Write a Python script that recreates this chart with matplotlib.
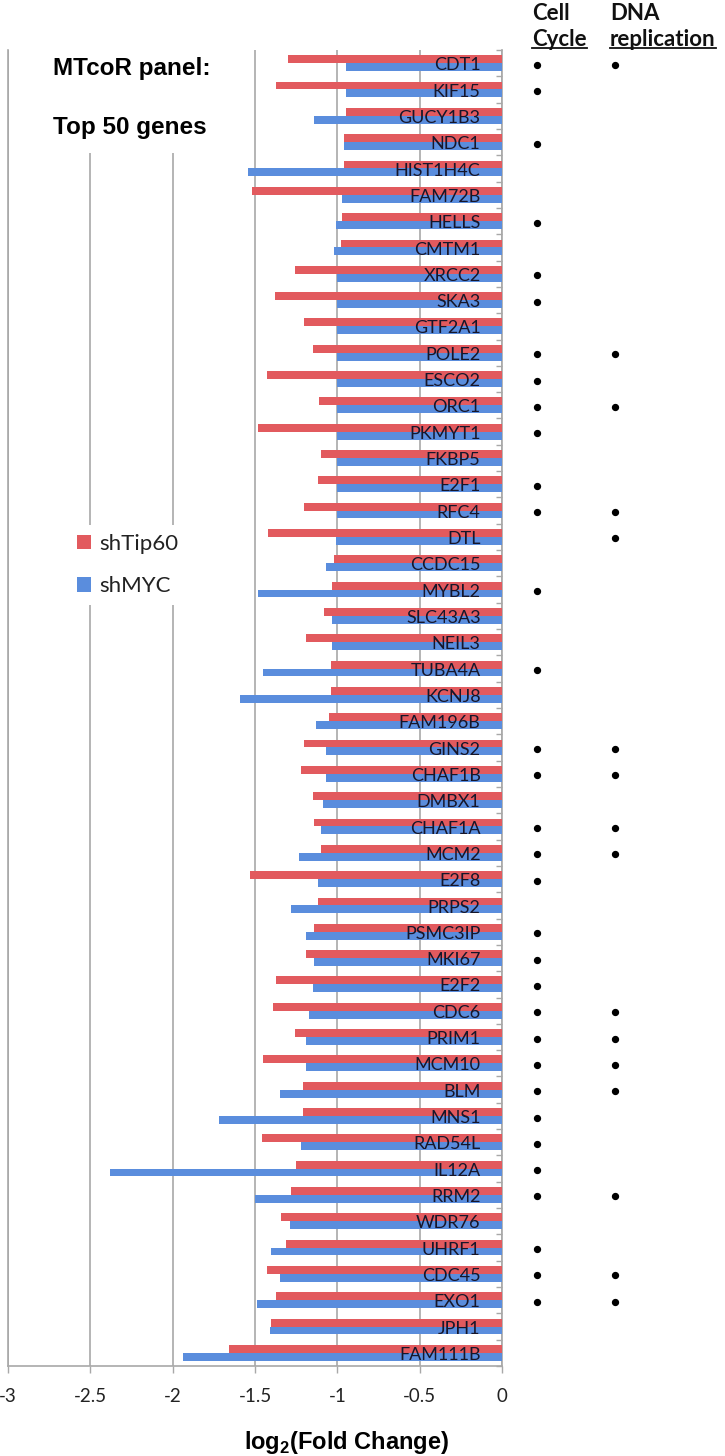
import numpy as np
import matplotlib
matplotlib.use("Agg")
import matplotlib.pyplot as plt
from matplotlib.lines import Line2D
from matplotlib.patches import Patch

plt.rcParams['mathtext.fontset'] = 'custom'
plt.rcParams['mathtext.rm'] = 'Liberation Sans'
plt.rcParams['mathtext.bf'] = 'Liberation Sans:bold'

# ---------------- data ----------------
genes = ["CDT1", "KIF15", "GUCY1B3", "NDC1", "HIST1H4C", "FAM72B", "HELLS", "CMTM1",
         "XRCC2", "SKA3", "GTF2A1", "POLE2", "ESCO2", "ORC1", "PKMYT1", "FKBP5", "E2F1",
         "RFC4", "DTL", "CCDC15", "MYBL2", "SLC43A3", "NEIL3", "TUBA4A", "KCNJ8", "FAM196B",
         "GINS2", "CHAF1B", "DMBX1", "CHAF1A", "MCM2", "E2F8", "PRPS2", "PSMC3IP", "MKI67",
         "E2F2", "CDC6", "PRIM1", "MCM10", "BLM", "MNS1", "RAD54L", "IL12A", "RRM2", "WDR76",
         "UHRF1", "CDC45", "EXO1", "JPH1", "FAM111B"]

shTip60 = [-1.30, -1.37, -0.95, -0.96, -0.96, -1.52, -0.97, -0.98, -1.26, -1.38,
           -1.20, -1.15, -1.43, -1.11, -1.48, -1.10, -1.12, -1.20, -1.42, -1.02,
           -1.03, -1.08, -1.19, -1.04, -1.04, -1.05, -1.20, -1.22, -1.15, -1.14,
           -1.10, -1.53, -1.12, -1.14, -1.19, -1.37, -1.39, -1.26, -1.45, -1.21,
           -1.21, -1.46, -1.25, -1.28, -1.34, -1.31, -1.43, -1.37, -1.40, -1.66]

shMYC = [-0.95, -0.95, -1.14, -0.96, -1.54, -0.97, -1.01, -1.02, -1.00, -1.00,
         -1.00, -1.00, -1.00, -1.00, -1.00, -1.00, -1.00, -1.00, -1.01, -1.07,
         -1.48, -1.03, -1.03, -1.45, -1.59, -1.13, -1.07, -1.07, -1.09, -1.10,
         -1.23, -1.12, -1.28, -1.19, -1.14, -1.15, -1.17, -1.19, -1.19, -1.35,
         -1.72, -1.22, -2.38, -1.50, -1.29, -1.40, -1.35, -1.49, -1.41, -1.94]

cell_cycle_genes = ["CDT1", "KIF15", "NDC1", "HELLS", "XRCC2", "SKA3", "POLE2", "ESCO2",
                    "ORC1", "PKMYT1", "E2F1", "RFC4", "MYBL2", "TUBA4A", "GINS2", "CHAF1B",
                    "CHAF1A", "MCM2", "E2F8", "PSMC3IP", "MKI67", "E2F2", "CDC6", "PRIM1",
                    "MCM10", "BLM", "MNS1", "RAD54L", "IL12A", "RRM2", "UHRF1", "CDC45", "EXO1"]
dna_rep_genes = ["CDT1", "POLE2", "ORC1", "RFC4", "DTL", "GINS2", "CHAF1B", "CHAF1A", "MCM2",
                 "CDC6", "PRIM1", "MCM10", "BLM", "RRM2", "CDC45", "EXO1"]

xticks = [-3, -2.5, -2, -1.5, -1, -0.5, 0]
xticklabels = ["-3", "-2.5", "-2", "-1.5", "-1", "-0.5", "0"]

# ---------------- style ----------------
RED = "#E25A5E"
BLUE = "#5A8DDD"
GRID = "#A8A8A8"
W, H = 725, 1456

fig = plt.figure(figsize=(W / 100, H / 100), dpi=100)
fig.patch.set_facecolor("white")

ax_l, ax_r, ax_t, ax_b = 8, 502, 50, 1366
ax = fig.add_axes([ax_l / W, 1 - ax_b / H, (ax_r - ax_l) / W, (ax_b - ax_t) / H])

y = np.arange(len(genes))
bh = 0.30
ax.barh(y - bh / 2, shTip60, height=bh, color=RED, zorder=3, label="shTip60")
ax.barh(y + bh / 2, shMYC, height=bh, color=BLUE, zorder=3, label="shMYC")

ax.set_xlim(-3, 0)
ax.set_ylim(len(genes) - 0.5, -0.5)

ax.spines["top"].set_visible(False)
for spine in ["left", "bottom", "right"]:
    ax.spines[spine].set_color(GRID)
    ax.spines[spine].set_linewidth(1.2)

ax.set_xticks(xticks)
ax.set_xticklabels(xticklabels, fontfamily="Lato", fontsize=13.5, color="#222222")
ax.tick_params(axis="x", direction="out", length=5, width=1, color=GRID, pad=11)
ax.grid(axis="x", color=GRID, linewidth=1.2, zorder=0)

ax.yaxis.tick_right()
ax.set_yticks(np.arange(-0.5, len(genes), 1.0))
ax.set_yticklabels([])
ax.tick_params(axis="y", direction="in", length=4, width=1, color=GRID)

for yi, g in zip(y, genes):
    ax.text(-0.13, yi + 0.08, g, ha="right", va="center", fontfamily="Lato",
            fontsize=13, color="#16162a", zorder=5)

# Title block with white background covering the gridlines
fig.text(53 / W, 1 - 57 / H, "MTcoR panel:\n\nTop 50 genes", ha="left", va="top",
         fontfamily="Liberation Sans", fontweight="bold", fontsize=17.5,
         linespacing=1.36, zorder=10,
         bbox=dict(facecolor="white", edgecolor="none", pad=10))

# Legend
leg = fig.legend(handles=[Patch(facecolor=RED, edgecolor="none", label="shTip60"),
                          Patch(facecolor=BLUE, edgecolor="none", label="shMYC")],
                 loc="center left", bbox_to_anchor=(68 / W, 1 - 565 / H),
                 prop={"family": "Lato", "size": 16}, frameon=True, fancybox=False,
                 framealpha=1, facecolor="white", edgecolor="none",
                 handlelength=0.65, handleheight=0.65, handletextpad=0.35,
                 labelspacing=1.0, borderpad=0.4, borderaxespad=0, labelcolor="#222222")
leg.set_zorder(10)

# Annotation columns
ax2 = fig.add_axes([520 / W, 1 - ax_b / H, (W - 520) / W, (ax_b - ax_t) / H], sharey=ax)
ax2.set_xlim(0, 1)
ax2.axis("off")
col_cc, col_dna = 0.085, 0.463
cc_y = [i for i, g in enumerate(genes) if g in cell_cycle_genes]
dna_y = [i for i, g in enumerate(genes) if g in dna_rep_genes]
ax2.scatter([col_cc] * len(cc_y), np.array(cc_y) + 0.06, s=18, color="black")
ax2.scatter([col_dna] * len(dna_y), np.array(dna_y) + 0.06, s=18, color="black")

hdr_kw = dict(fontfamily="Lato", fontweight="bold", fontsize=16, color="#111111",
              ha="left", va="center")
fig.text(532 / W, 1 - 13 / H, "Cell", **hdr_kw)
t1 = fig.text(532 / W, 1 - 40 / H, "Cycle", **hdr_kw)
fig.text(610 / W, 1 - 13 / H, "DNA", **hdr_kw)
t2 = fig.text(610 / W, 1 - 40 / H, "replication", **hdr_kw)

fig.canvas.draw()
r = fig.canvas.get_renderer()
for t in (t1, t2):
    bb = t.get_window_extent(renderer=r)
    yline = (H - 48) / H
    fig.add_artist(Line2D([bb.x0 / W, bb.x1 / W], [yline, yline], color="#111111",
                          linewidth=1.3, transform=fig.transFigure))

fig.text(347 / W, 1 - 1442 / H, r"log$_\mathbf{2}$(Fold Change)", ha="center",
         va="center", fontfamily="Liberation Sans", fontweight="bold", fontsize=17)

fig.savefig("out.png", dpi=100, facecolor="white")
